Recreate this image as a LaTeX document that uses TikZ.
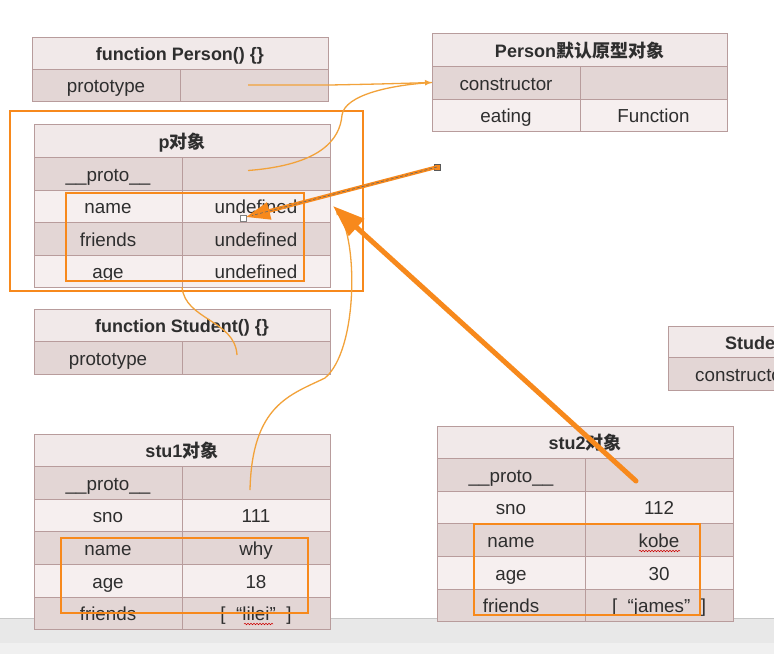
\documentclass[tikz,border=0pt]{standalone}
\usepackage{fontspec}
\setmainfont{Liberation Sans}
\newfontfamily\cjk{Noto Sans CJK SC}
\usetikzlibrary{arrows.meta,decorations.pathmorphing}
\definecolor{hdrfill}{HTML}{F1E9E9}
\definecolor{litefill}{HTML}{F6EFEF}
\definecolor{darkfill}{HTML}{E3D6D5}
\definecolor{cellline}{HTML}{B89C9C}
\definecolor{annor}{HTML}{F7891C}
\definecolor{thinor}{HTML}{F2A23A}
\definecolor{txt}{HTML}{2E2E2E}
\newcommand\mkcell[7]{\node[tcell,#6,minimum width={(#4-#2)*1pt},minimum height={(#5-#3)*1pt}] (#1) at ({(#2+#4)/2},{(#3+#5)/2}) {#7};}
\tikzset{
  tcell/.style={draw=cellline, line width=0.8pt, inner sep=0pt, outer sep=0pt, text=txt,
    font=\fontsize{18.8}{20}\selectfont, text height=15pt, text depth=0pt},
  hdr/.style={fill=hdrfill, font=\fontsize{18}{20}\selectfont\bfseries},
  lite/.style={fill=litefill},
  dark/.style={fill=darkfill},
  obox/.style={draw=annor, line width=2.6pt},
  thinconn/.style={draw=thinor, line width=1.3pt},
  bigarrow/.style={draw=annor, line width=5pt, line cap=round, -{Triangle[length=32pt,width=22pt]}},
  midarrow/.style={draw=annor, line width=3.6pt, -{Triangle[length=24pt,width=17pt]}},
  handle/.style={draw=gray!70!black, line width=0.6pt, minimum size=6pt, inner sep=0pt},
  squig/.style={draw=red!80!black, line width=0.5pt, decorate, decoration={snake, amplitude=0.8pt, segment length=3pt}},
  lbl/.style={inner sep=0pt, text=txt, font=\fontsize{18.8}{20}\selectfont}
}
\begin{document}
\begin{tikzpicture}[x=1pt,y=-1pt]
\useasboundingbox (0,0) rectangle (774,654);
\fill[white] (0,0) rectangle (774,654);
% bottom window band
\fill[black!9] (0,618) rectangle (774,643);
\draw[black!22, line width=0.6pt] (0,618) -- (774,618);
\draw[black!28, line width=0.8pt] (0,643) -- (774,643);
\fill[black!6] (0,643.4) rectangle (774,654);

% function Person
\mkcell{pf-h}{32}{37}{328}{69}{hdr}{function Person() \{\}}
\mkcell{pf-k}{32}{69}{180}{101}{dark}{prototype}
\mkcell{pf-v}{180}{69}{328}{101}{dark}{}
% Person prototype object
\mkcell{pp-h}{432}{33}{727}{66}{hdr}{Person{\cjk\bfseries 默认原型对象}}
\mkcell{pp-ck}{432}{66}{580}{99}{dark}{constructor}
\mkcell{pp-cv}{580}{66}{727}{99}{dark}{}
\mkcell{pp-ek}{432}{99}{580}{131}{lite}{eating}
\mkcell{pp-ev}{580}{99}{727}{131}{lite}{Function}
% p object
\mkcell{p-h}{34}{124}{330}{157}{hdr}{p{\cjk\bfseries 对象}}
\mkcell{p-pk}{34}{157}{182}{190}{dark}{\_\_proto\_\_}
\mkcell{p-pv}{182}{157}{330}{190}{dark}{}
\mkcell{p-nk}{34}{190}{182}{222}{lite}{name}
\mkcell{p-nv}{182}{190}{330}{222}{lite}{undefined}
\mkcell{p-fk}{34}{222}{182}{255}{dark}{friends}
\mkcell{p-fv}{182}{222}{330}{255}{dark}{undefined}
\mkcell{p-ak}{34}{255}{182}{287}{lite}{age}
\mkcell{p-av}{182}{255}{330}{287}{lite}{undefined}
% function Student
\mkcell{sf-h}{34}{309}{330}{341}{hdr}{function Student() \{\}}
\mkcell{sf-k}{34}{341}{182}{374}{dark}{prototype}
\mkcell{sf-v}{182}{341}{330}{374}{dark}{}
% stu1
\mkcell{s1-h}{34}{434}{330}{466}{hdr}{stu1{\cjk\bfseries 对象}}
\mkcell{s1-pk}{34}{466}{182}{499}{dark}{\_\_proto\_\_}
\mkcell{s1-pv}{182}{466}{330}{499}{dark}{}
\mkcell{s1-sk}{34}{499}{182}{531}{lite}{sno}
\mkcell{s1-sv}{182}{499}{330}{531}{lite}{111}
\mkcell{s1-nk}{34}{531}{182}{564}{dark}{name}
\mkcell{s1-nv}{182}{531}{330}{564}{dark}{why}
\mkcell{s1-ak}{34}{564}{182}{597}{lite}{age}
\mkcell{s1-av}{182}{564}{330}{597}{lite}{18}
\mkcell{s1-fk}{34}{597}{182}{629}{dark}{friends}
\mkcell{s1-fv}{182}{597}{330}{629}{dark}{[\ \ “lilei”\ \ ]}
% stu2
\mkcell{s2-h}{437}{426}{733}{458}{hdr}{stu2{\cjk\bfseries 对象}}
\mkcell{s2-pk}{437}{458}{585}{491}{dark}{\_\_proto\_\_}
\mkcell{s2-pv}{585}{458}{733}{491}{dark}{}
\mkcell{s2-sk}{437}{491}{585}{523}{lite}{sno}
\mkcell{s2-sv}{585}{491}{733}{523}{lite}{112}
\mkcell{s2-nk}{437}{523}{585}{556}{dark}{name}
\mkcell{s2-nv}{585}{523}{733}{556}{dark}{kobe}
\mkcell{s2-ak}{437}{556}{585}{589}{lite}{age}
\mkcell{s2-av}{585}{556}{733}{589}{lite}{30}
\mkcell{s2-fk}{437}{589}{585}{621}{dark}{friends}
\mkcell{s2-fv}{585}{589}{733}{621}{dark}{[\ \ “james”\ \ ]}
% Student prototype (cut off at the right edge)
\begin{scope}
\clip (0,0) rectangle (774,654);
\mkcell{st-h}{668}{326}{800}{357}{hdr}{}
\mkcell{st-k}{668}{357}{816}{390}{dark}{}
\mkcell{st-v}{816}{357}{900}{390}{dark}{}
\node[lbl, anchor=base west, font=\fontsize{18}{20}\selectfont\bfseries] (st-ht) at (725,349) {Stude};
\node[lbl, anchor=base west] (st-kt) at (695,381) {constructo};
\end{scope}

% spell-check squiggles
\draw[squig] (244,624) -- (273,624);
\draw[squig] (639,551) -- (680,551);

% orange boxes
\draw[obox] (10,111) rectangle (363,291);
\draw[obox] (66,193) rectangle (304,281);
\draw[obox] (61,538) rectangle (308,613);
\draw[obox] (474,524) rectangle (700,615);

% thin connectors
\coordinate (pin1) at (335,208);
\draw[thinconn, -{Latex[length=7pt,width=6pt]}] ([xshift=-6pt]pf-v.center) -- (330,85) .. controls (380,84) .. (pp-ck.west);
\draw[thinconn] ([xshift=-8pt,yshift=3pt]p-pv.center) .. controls (320,165) and (340,140) .. (342,115) .. controls (345,95) and (390,85) .. (pp-ck.west);
\draw[thinconn] ([xshift=-19pt,yshift=2.5pt]sf-v.center) .. controls (235,320) and (185,320) .. (p-ak.south east);
\draw[thinconn, -{Latex[length=7pt,width=6pt]}] ([xshift=-6pt,yshift=-7.5pt]s1-pv.center) .. controls (252,405) and (290,395) .. (325,378) .. controls (358,350) and (358,240) .. (pin1);

% big arrow from stu2.__proto__
\coordinate (pin2) at (333,206);
\draw[bigarrow] ([xshift=-23pt,yshift=-6.5pt]s2-pv.center) -- (pin2);

% selected arrow with handles
\node[handle, fill=annor] (sqa) at (437,167) {};
\coordinate (ptip) at (246,217);
\draw[midarrow] (sqa.center) -- (ptip);
\draw[gray!80!black, line width=0.6pt, dash pattern=on 3pt off 2pt] (sqa.center) -- (252,215.5);
\node[handle, fill=white, draw=gray] (sqb) at (243,218) {};
\end{tikzpicture}
\end{document}
